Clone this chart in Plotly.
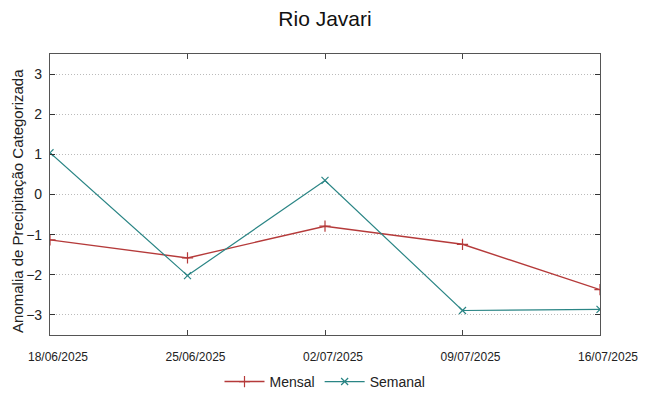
import plotly.graph_objects as go

dates = ["2025-06-18", "2025-06-25", "2025-07-02", "2025-07-09", "2025-07-16"]
tick_labels = ["18/06/2025", "25/06/2025", "02/07/2025", "09/07/2025", "16/07/2025"]
mensal = [-1.13, -1.58, -0.79, -1.24, -2.37]
semanal = [1.04, -2.02, 0.35, -2.89, -2.86]
y_ticks = [-3, -2, -1, 0, 1, 2, 3]

red = "#b53a3a"
teal = "#2a8585"

fig = go.Figure()
fig.add_trace(go.Scatter(
    x=dates, y=mensal, name="Mensal", mode="lines+markers",
    line=dict(color=red, width=1.4),
    marker=dict(symbol="cross-thin", size=8, line=dict(color=red, width=1.2)),
))
fig.add_trace(go.Scatter(
    x=dates, y=semanal, name="Semanal", mode="lines+markers",
    line=dict(color=teal, width=1.2),
    marker=dict(symbol="x-thin", size=7, line=dict(color=teal, width=1.2)),
))

fig.update_layout(
    width=649, height=396,
    margin=dict(l=42, r=57, t=46, b=69, autoexpand=False),
    paper_bgcolor="white", plot_bgcolor="white",
    font=dict(family="Liberation Sans, Arial, sans-serif", color="#222"),
    title=dict(text="Rio Javari", xref="paper", x=0.5, xanchor="center",
               y=0.972, yanchor="middle",
               font=dict(size=21, color="#111"), automargin=False),
    showlegend=True,
    legend=dict(orientation="h", x=0.5, xanchor="center", y=-0.167, yanchor="middle",
                font=dict(size=14), itemwidth=40, bgcolor="rgba(0,0,0,0)"),
    annotations=[dict(
        text="Anomalia de Precipitação Categorizada", textangle=-90,
        xref="paper", yref="paper", x=0, y=0.477, xanchor="center", yanchor="middle",
        xshift=-32, showarrow=False, font=dict(size=15, color="#222"),
    )],
)
fig.update_xaxes(
    type="date", range=[dates[0], dates[-1]], automargin=False,
    tickvals=dates, ticktext=tick_labels,
    tickfont=dict(size=12),
    ticks="inside", ticklen=5, tickcolor="#444", mirror="ticks",
    ticklabelstandoff=10, ticklabelshift=8,
    showline=True, linecolor="#555", linewidth=1.2,
    showgrid=False, zeroline=False,
)
fig.update_yaxes(
    range=[-3.5, 3.5], tickvals=y_ticks, tickfont=dict(size=14), automargin=False,
    ticks="inside", ticklen=5, tickcolor="#333", mirror="ticks",
    ticklabelstandoff=4,
    showline=True, linecolor="#555", linewidth=1.2,
    showgrid=True, gridcolor="#bbbbbb", griddash="1px,2px", gridwidth=1,
    zeroline=False,
)

fig.write_html("out.html")
